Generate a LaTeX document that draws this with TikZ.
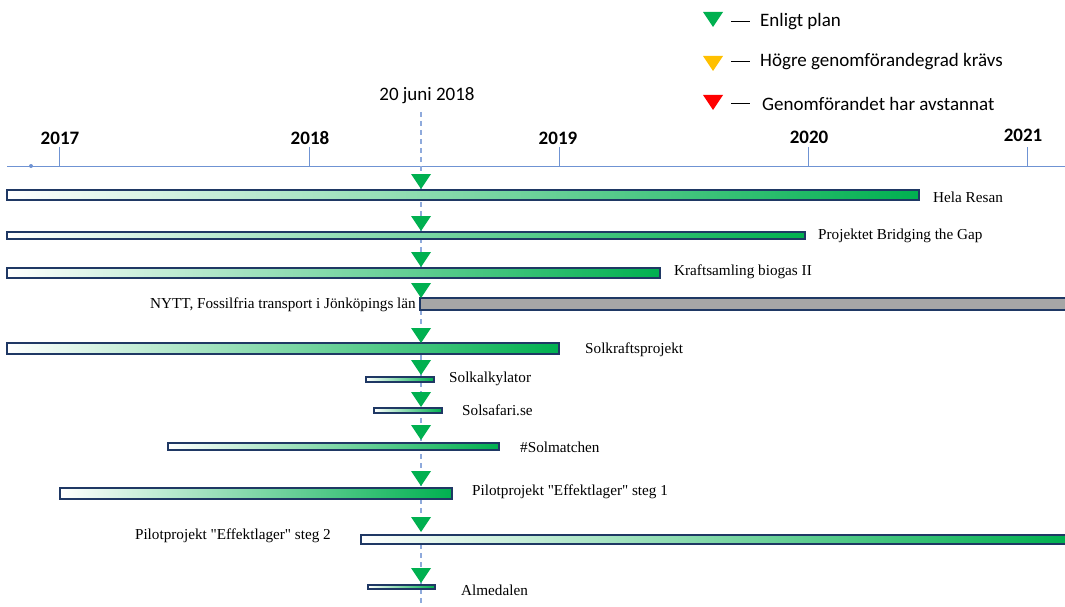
\documentclass[tikz,border=0pt]{standalone}
\usepackage{fontspec}
\setmainfont{Liberation Serif}[Ligatures=TeXOff]
\newfontfamily\carl{Carlito}
\definecolor{gbar}{HTML}{00B050}
\definecolor{navy}{HTML}{1F3864}
\definecolor{axisblue}{HTML}{6F93D3}
\definecolor{dashblue}{HTML}{8FAADC}
\definecolor{grayfill}{HTML}{A6A6A6}
\definecolor{ylw}{HTML}{FFC000}
\definecolor{rd}{HTML}{FF0000}
\tikzset{
  barbox/.style={draw=navy, line width=1.3pt, left color=white, right color=gbar},
  graybox/.style={draw=navy, line width=1.3pt, fill=grayfill},
  lbl/.style={inner sep=0pt, font=\fontsize{15.2}{17}\selectfont},
  yearlbl/.style={inner sep=0pt, font=\carl\bfseries\fontsize{19}{21}\selectfont},
  leglbl/.style={inner sep=0pt, anchor=west, font=\carl\fontsize{19}{21}\selectfont},
  tick/.style={axisblue, line width=1pt},
}
\newcommand{\gtri}[3][gbar]{\fill[#1] (#2-10,#3) -- (#2+10,#3) -- (#2,#3+15) -- cycle;}
\begin{document}
\begin{tikzpicture}[x=1pt,y=-1pt]
\useasboundingbox (0,0) rectangle (1065,607);
% legend
\gtri{713}{12}
\gtri[ylw]{713}{56}
\gtri[rd]{713}{95}
\coordinate (d1a) at (731,22); \coordinate (d1b) at (750,22);
\coordinate (d2a) at (731,62); \coordinate (d2b) at (750,62);
\coordinate (d3a) at (731,104); \coordinate (d3b) at (750,104);
\draw[black, line width=1pt] (d1a) -- (d1b);
\draw[black, line width=1pt] (d2a) -- (d2b);
\draw[black, line width=1pt] (d3a) -- (d3b);
\node[leglbl] (l1) at (760,22) {Enligt plan};
\node[leglbl] (l2) at (760,62) {Högre genomförandegrad krävs};
\node[leglbl] (l3) at (762,104) {Genomförandet har avstannat};
% axis
\draw[axisblue, line width=1pt] (7,166) -- (1065,166);
\fill[axisblue] (31,166) circle (2);
\foreach \x in {59, 309, 559, 808, 1027}{
  \draw[tick] (\x,147) -- (\x,166);
}
\node[yearlbl] (y17) at (60,138) {2017};
\node[yearlbl] (y18) at (310,138) {2018};
\node[yearlbl] (y19) at (558,138) {2019};
\node[yearlbl] (y20) at (809,137) {2020};
\node[yearlbl] (y21) at (1023,135) {2021};
% today line
\node[inner sep=0pt, font=\carl\fontsize{19}{21}\selectfont] (today) at (427,96) {20 juni 2018};
\coordinate (dtop) at (421,112);
\coordinate (dbot) at (421,607);
\draw[dashblue, line width=1.5pt, dash pattern=on 5pt off 4pt] (dtop) -- (dbot);
% bars
\draw[barbox] (7,190) rectangle (919,200);
\draw[barbox] (7,232) rectangle (805,239);
\draw[barbox] (7,268) rectangle (660,278);
\draw[graybox] (420,298) rectangle (1066,310);
\draw[barbox] (7,343) rectangle (559,354);
\draw[barbox] (366,377) rectangle (434,382);
\draw[barbox] (374,408) rectangle (442,413);
\draw[barbox] (168,443) rectangle (499,450);
\draw[barbox] (60,488) rectangle (452,499);
\draw[barbox] (361,535) rectangle (1066,544);
\draw[barbox] (368,585) rectangle (435,589);
% triangles
\gtri{421}{174}
\gtri{421}{216}
\gtri{421}{252}
\gtri{421}{283}
\gtri{421}{328}
\gtri{421}{360}
\gtri{421}{392}
\gtri{421}{425}
\gtri{421}{471}
\gtri{421}{517}
\gtri{421}{568}
% labels
\node[lbl, anchor=west] (t1) at (933,197) {Hela Resan};
\node[lbl, anchor=west] (t2) at (818,236) {Projektet Bridging the Gap};
\node[lbl, anchor=west] (t3) at (674,272) {Kraftsamling biogas II};
\node[lbl, anchor=east] (t4) at (416,305) {NYTT, Fossilfria transport i Jönköpings län};
\node[lbl, anchor=west] (t5) at (585,350) {Solkraftsprojekt};
\node[lbl, anchor=west] (t6) at (449,379) {Solkalkylator};
\node[lbl, anchor=west] (t7) at (462,410) {Solsafari.se};
\node[lbl, anchor=west] (t8) at (520,447) {\#Solmatchen};
\node[lbl, anchor=west] (t9) at (472,492) {Pilotprojekt "Effektlager" steg 1};
\node[lbl, anchor=east] (t10) at (331,536) {Pilotprojekt "Effektlager" steg 2};
\node[lbl, anchor=west] (t11) at (461,590) {Almedalen};
\end{tikzpicture}
\end{document}
